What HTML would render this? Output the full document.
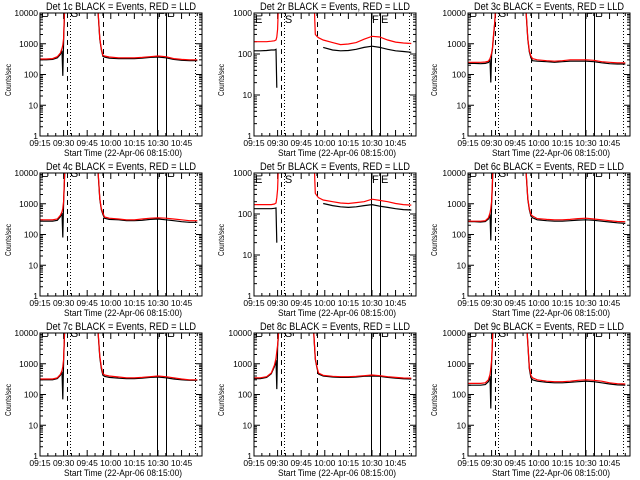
<!DOCTYPE html>
<html><head><meta charset="utf-8"><style>
html,body{margin:0;padding:0;background:#fff}
svg{display:block}
text{font-family:"Liberation Sans",sans-serif;fill:#000}
</style></head><body>
<svg id="fig" width="640" height="480" xmlns="http://www.w3.org/2000/svg">
<rect width="640" height="480" fill="#fff"/>
</svg>
<script>
const T=[0,4,8,11,13,14,14.5,15,15.5,16,17,18,36,37,38,39,40,41,44,50,55,60,65,70,75,80,85,90,95,100];
const panelNames=["1c","2r","3c","4c","5r","6c","7c","8c","9c"];
const panelMax=[10000,1000,10000,10000,1000,10000,10000,10000,10000];
const xTickLabels=["09:15","09:30","09:45","10:00","10:15","10:30","10:45"];
const xTickMins=[0,15,30,45,60,75,90];
const markerMins=[17.4,19,40,74.4,80.1,98.5];
const markerLetters=["E","S","F","E"];
const N=null;
const red1=[320,320,330,380,500,700,900,1500,10000,30000,30000,30000,30000,10000,1500,700,420,400,370,350,350,350,360,380,400,380,330,310,300,300];
const blk1=[300,300,310,350,450,600,90,1200,8000,30000,30000,30000,30000,9000,1400,650,390,370,340,330,330,330,340,360,370,350,310,290,280,280];
const red2=[200,200,200,205,210,220,260,400,1500,5000,5000,5000,5000,5000,3000,300,270,250,220,190,170,175,190,230,270,260,220,195,185,180];
const blk2=[120,120,122,125,125,130,15,N,N,N,N,N,N,N,N,N,N,N,145,125,120,122,130,145,155,145,130,120,115,110];
const red3=[250,250,250,255,270,330,400,500,700,1500,5000,30000,30000,10000,1500,600,400,330,300,280,270,280,300,300,300,290,260,250,240,240];
const blk3=[230,230,225,230,245,300,55,450,650,1300,4500,30000,30000,9000,1400,550,350,280,270,260,250,260,270,270,270,260,240,225,220,220];
const red4=[300,300,300,320,420,550,700,1200,6000,30000,30000,30000,30000,10000,1500,700,500,370,340,320,300,300,320,340,350,340,320,300,280,280];
const blk4=[270,270,270,290,380,500,80,1100,5000,30000,30000,30000,30000,9000,1400,650,450,340,310,300,280,280,290,310,320,300,280,260,250,250];
const red5=[170,170,170,170,175,185,250,400,1500,5000,5000,5000,5000,5000,3000,320,280,250,220,200,185,180,190,200,230,215,200,180,170,165];
const blk5=[135,135,135,135,138,140,20,N,N,N,N,N,N,N,N,N,N,N,180,160,150,145,150,160,170,155,145,135,128,125];
const red6=[270,270,270,280,350,500,700,1200,5000,30000,30000,30000,30000,10000,1500,700,450,400,330,310,300,300,310,330,340,320,300,280,265,260];
const blk6=[260,260,255,265,320,450,65,1000,4000,30000,30000,30000,30000,9000,1400,650,400,350,300,280,270,270,280,295,300,290,270,255,240,230];
const red7=[320,320,320,350,450,600,800,1400,8000,30000,30000,30000,30000,10000,1800,800,480,430,400,370,350,350,360,380,400,380,350,320,300,300];
const blk7=[300,300,300,330,420,550,70,1200,7000,30000,30000,30000,30000,9000,1600,700,420,390,360,340,330,330,340,360,370,350,320,300,290,290];
const red8=[350,350,380,500,900,1500,2500,4000,9000,30000,30000,30000,30000,30000,10000,1500,800,500,420,390,380,380,390,410,430,410,380,360,345,340];
const blk8=[330,330,360,470,800,1300,150,3500,8000,30000,30000,30000,30000,30000,9000,1400,750,460,400,370,360,360,370,390,400,390,360,340,325,320];
const red9=[230,230,230,240,300,450,700,1300,5000,30000,30000,30000,30000,30000,5000,800,420,350,300,270,260,260,270,290,300,290,270,240,225,220];
const blk9=[200,200,200,210,260,400,35,1100,4500,30000,30000,30000,30000,30000,4500,700,350,300,270,250,240,240,250,260,270,260,240,220,205,200];
const reds=[red1,red2,red3,red4,red5,red6,red7,red8,red9];
const blks=[blk1,blk2,blk3,blk4,blk5,blk6,blk7,blk8,blk9];

const NS="http://www.w3.org/2000/svg";
const svg=document.getElementById('fig');
function mk(tag,attrs,parent){const e=document.createElementNS(NS,tag);for(const k in attrs)e.setAttribute(k,attrs[k]);(parent||svg).appendChild(e);return e;}
const XMAX=103;
for(let p=0;p<9;p++){
  const col=p%3,row=Math.floor(p/3);
  const ox=col*213,oy=row*160;
  const L=ox+40+col,R=ox+202+col,TOP=oy+13,BOT=oy+136;
  const ymax=panelMax[p];
  const xs=m=>L+(R-L)*m/XMAX;
  const ys=v=>BOT-(BOT-TOP)*Math.log10(v)/Math.log10(ymax);
  const g=mk('g',{});
  
  
  const cp=mk('clipPath',{id:'cp'+p},g);
  mk('rect',{x:L,y:TOP,width:R-L,height:BOT-TOP},cp);
  const t=mk('text',{x:(L+R)/2,y:oy+10,'font-size':11,'text-anchor':'middle',textLength:150,lengthAdjust:'spacingAndGlyphs'},g);
  t.textContent='Det '+panelNames[p]+' BLACK = Events, RED = LLD';
  
  
  const yl=mk('text',{x:0,y:0,'font-size':8,'text-anchor':'middle',transform:'translate('+(ox+11)+','+(oy+80)+') rotate(-90)',textLength:32,lengthAdjust:'spacingAndGlyphs'},g);
  yl.textContent='Counts/sec';
  
  
  const xl=mk('text',{x:(L+R)/2+2,y:oy+156,'font-size':9,'text-anchor':'middle',textLength:118,lengthAdjust:'spacingAndGlyphs'},g);
  xl.textContent='Start Time (22-Apr-06 08:15:00)';
  
  
  const dec=Math.round(Math.log10(ymax));
  for(let d=0;d<=dec;d++){
    const v=Math.pow(10,d),y=ys(v);
    mk('line',{x1:L,x2:L+6,y1:y,y2:y,stroke:'#000','stroke-width':1},g);
    mk('line',{x1:R,x2:R-6,y1:y,y2:y,stroke:'#000','stroke-width':1},g);
    const tl=mk('text',{x:L-2,y:y+3,'font-size':8.5,'text-anchor':'end'},g);
    tl.textContent=String(v);
    
    
    if(d<dec){for(let k=2;k<=9;k++){const yy=ys(v*k);
      mk('line',{x1:L,x2:L+3,y1:yy,y2:yy,stroke:'#000','stroke-width':1},g);
      mk('line',{x1:R,x2:R-3,y1:yy,y2:yy,stroke:'#000','stroke-width':1},g);}}
  }
  for(let m=0;m<=XMAX;m+=5){const x=xs(m),maj=(m%15===0);
    mk('line',{x1:x,x2:x,y1:BOT,y2:BOT-(maj?6:3),stroke:'#000','stroke-width':1},g);
    mk('line',{x1:x,x2:x,y1:TOP,y2:TOP+(maj?6:3),stroke:'#000','stroke-width':1},g);}
  xTickMins.forEach((m,i)=>{const tl=mk('text',{x:xs(m),y:oy+146,'font-size':8.5,'text-anchor':'middle'},g);
    tl.textContent=xTickLabels[i];
    
    });
  const cg=mk('g',{'clip-path':'url(#cp'+p+')'},g);
  const dashSet=['5,4','1,2','5,4',null,null,'1,2'];
  markerMins.forEach((m,i)=>{const x=Math.round(xs(m))+0.5;
    const ln=mk('line',{x1:x,x2:x,y1:TOP,y2:BOT,stroke:'#000','stroke-width':1},cg);
    if(dashSet[i])ln.setAttribute('stroke-dasharray',dashSet[i]);
    
    });
  const letterAt=[0,markerMins[1],markerMins[3],markerMins[4]];
  const ly=dec===4?TOP+4:TOP+10;
  letterAt.forEach((m,i)=>{const lt=mk('text',{x:(i===0?L+1:xs(m)+1),y:ly,'font-size':11},cg);
    lt.textContent=markerLetters[i];
    
    });
  function path(vals){let d='',pen=false;
    vals.forEach((v,i)=>{if(v===null){pen=false;return;}
      d+=(pen?'L':'M')+xs(T[i]).toFixed(1)+','+ys(v).toFixed(1);pen=true;});return d;}
  const bp=mk('path',{d:path(blks[p]),fill:'none',stroke:'#000','stroke-width':1.2},cg);
  
  
  const rp=mk('path',{d:path(reds[p]),fill:'none',stroke:'#ff0000','stroke-width':1.2},cg);
  
  
  mk('rect',{x:L,y:TOP,width:R-L,height:BOT-TOP,fill:'none',stroke:'#000','stroke-width':1},g);
}
</script>
</body></html>
